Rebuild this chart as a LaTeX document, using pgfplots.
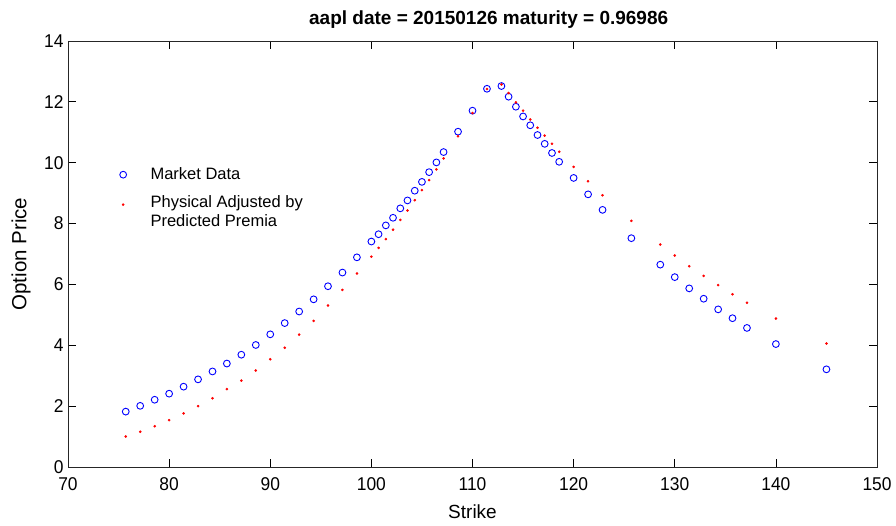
\documentclass[border=0pt]{standalone}
\usepackage{fontspec}
\setmainfont{Liberation Sans}
\newfontfamily\tickfont{Liberation Sans}[FakeStretch=0.94]
\usepackage{pgfplots}
\pgfplotsset{compat=1.18}

\begin{document}
\begin{tikzpicture}
\begin{axis}[
  scale only axis,
  width=809pt, height=426pt,
  at={(0,0)}, anchor=south west,
  xmin=70, xmax=150, ymin=0, ymax=14,
  xtick={70,80,...,150},
  ytick={0,2,...,14},
  tick align=inside,
  major tick length=8pt,
  axis line style={line width=0.9pt, black!85},
  tick style={black, line width=0.7pt},
  /pgf/number format/assume math mode=true,
  tick label style={font=\tickfont\fontsize{18.5}{20}\selectfont},
  xticklabel style={yshift=-7pt},
  yticklabel style={xshift=-1pt},
  xlabel={Strike}, ylabel={Option Price},
  xlabel style={font=\fontsize{19}{21}\selectfont,
    at={(axis description cs:0.5,-0.106)}, anchor=center},
  ylabel style={font=\fontsize{20.5}{22}\selectfont,
    at={(axis description cs:-0.058,0.5)}, anchor=center},
  title={aapl date = 20150126 maturity = 0.96986},
  title style={font=\fontsize{19}{21}\bfseries\selectfont,
    at={(axis description cs:0.52,1.037)}, anchor=center},
  legend style={draw=none, fill=none, inner sep=0pt,
    at={(axis cs:75.1,9.9)}, anchor=north west,
    font=\fontsize{16.5}{19}\selectfont, row sep=10pt, cells={align=left},
    /tikz/every odd column/.append style={column sep=22pt}},
  legend cell align=left,
]
\addplot[only marks, mark=o, mark size=3.4pt, blue, line width=0.9pt] coordinates {
(75.71,1.82) (77.14,2.01) (78.57,2.21) (80,2.41) (81.43,2.64) (82.86,2.88)
(84.29,3.14) (85.71,3.40) (87.14,3.69) (88.57,4.01) (90,4.36) (91.43,4.73)
(92.86,5.11) (94.29,5.51) (95.71,5.94) (97.14,6.39) (98.57,6.89) (100,7.41)
(100.71,7.65) (101.43,7.94) (102.14,8.19) (102.86,8.50) (103.57,8.76)
(104.29,9.08) (105,9.37) (105.71,9.69) (106.43,10.01) (107.14,10.35)
(108.57,11.02) (110,11.71) (111.43,12.43) (112.86,12.52) (113.57,12.17)
(114.29,11.84) (115,11.52) (115.71,11.23) (116.43,10.91) (117.14,10.62)
(117.86,10.32) (118.57,10.03) (120,9.50) (121.43,8.96) (122.86,8.45)
(125.71,7.52) (128.57,6.65) (130,6.24) (131.43,5.87) (132.86,5.53)
(134.29,5.18) (135.71,4.89) (137.14,4.57) (140,4.04) (145,3.21)
};
\addplot[only marks, mark=*, mark size=1.1pt, red, mark options={draw=none, fill=red},
  legend image post style={yshift=7pt}] coordinates {
(75.71,1.00) (77.14,1.16) (78.57,1.34) (80,1.54) (81.43,1.76) (82.86,2.00)
(84.29,2.26) (85.71,2.56) (87.14,2.84) (88.57,3.17) (90,3.54) (91.43,3.92)
(92.86,4.35) (94.29,4.80) (95.71,5.31) (97.14,5.82) (98.57,6.36) (100,6.91)
(100.71,7.20) (101.43,7.49) (102.14,7.80) (102.86,8.12) (103.57,8.43)
(104.29,8.77) (105,9.10) (105.71,9.43) (106.43,9.78) (107.14,10.14)
(108.57,10.87) (110,11.63) (111.43,12.42) (112.86,12.57) (113.57,12.29)
(114.29,11.98) (115,11.71) (115.71,11.42) (116.43,11.15) (117.14,10.89)
(117.86,10.62) (118.57,10.36) (120,9.86) (121.43,9.39) (122.86,8.93)
(125.71,8.09) (128.57,7.31) (130,6.95) (131.43,6.60) (132.86,6.28)
(134.29,5.98) (135.71,5.68) (137.14,5.40) (140,4.88) (145,4.06)
};
\legend{Market Data, {Physical Adjusted by\\Predicted Premia}}
\end{axis}
\pgfresetboundingbox
\path (-68pt,-59pt) rectangle (828pt,467pt);
\end{tikzpicture}
\end{document}
